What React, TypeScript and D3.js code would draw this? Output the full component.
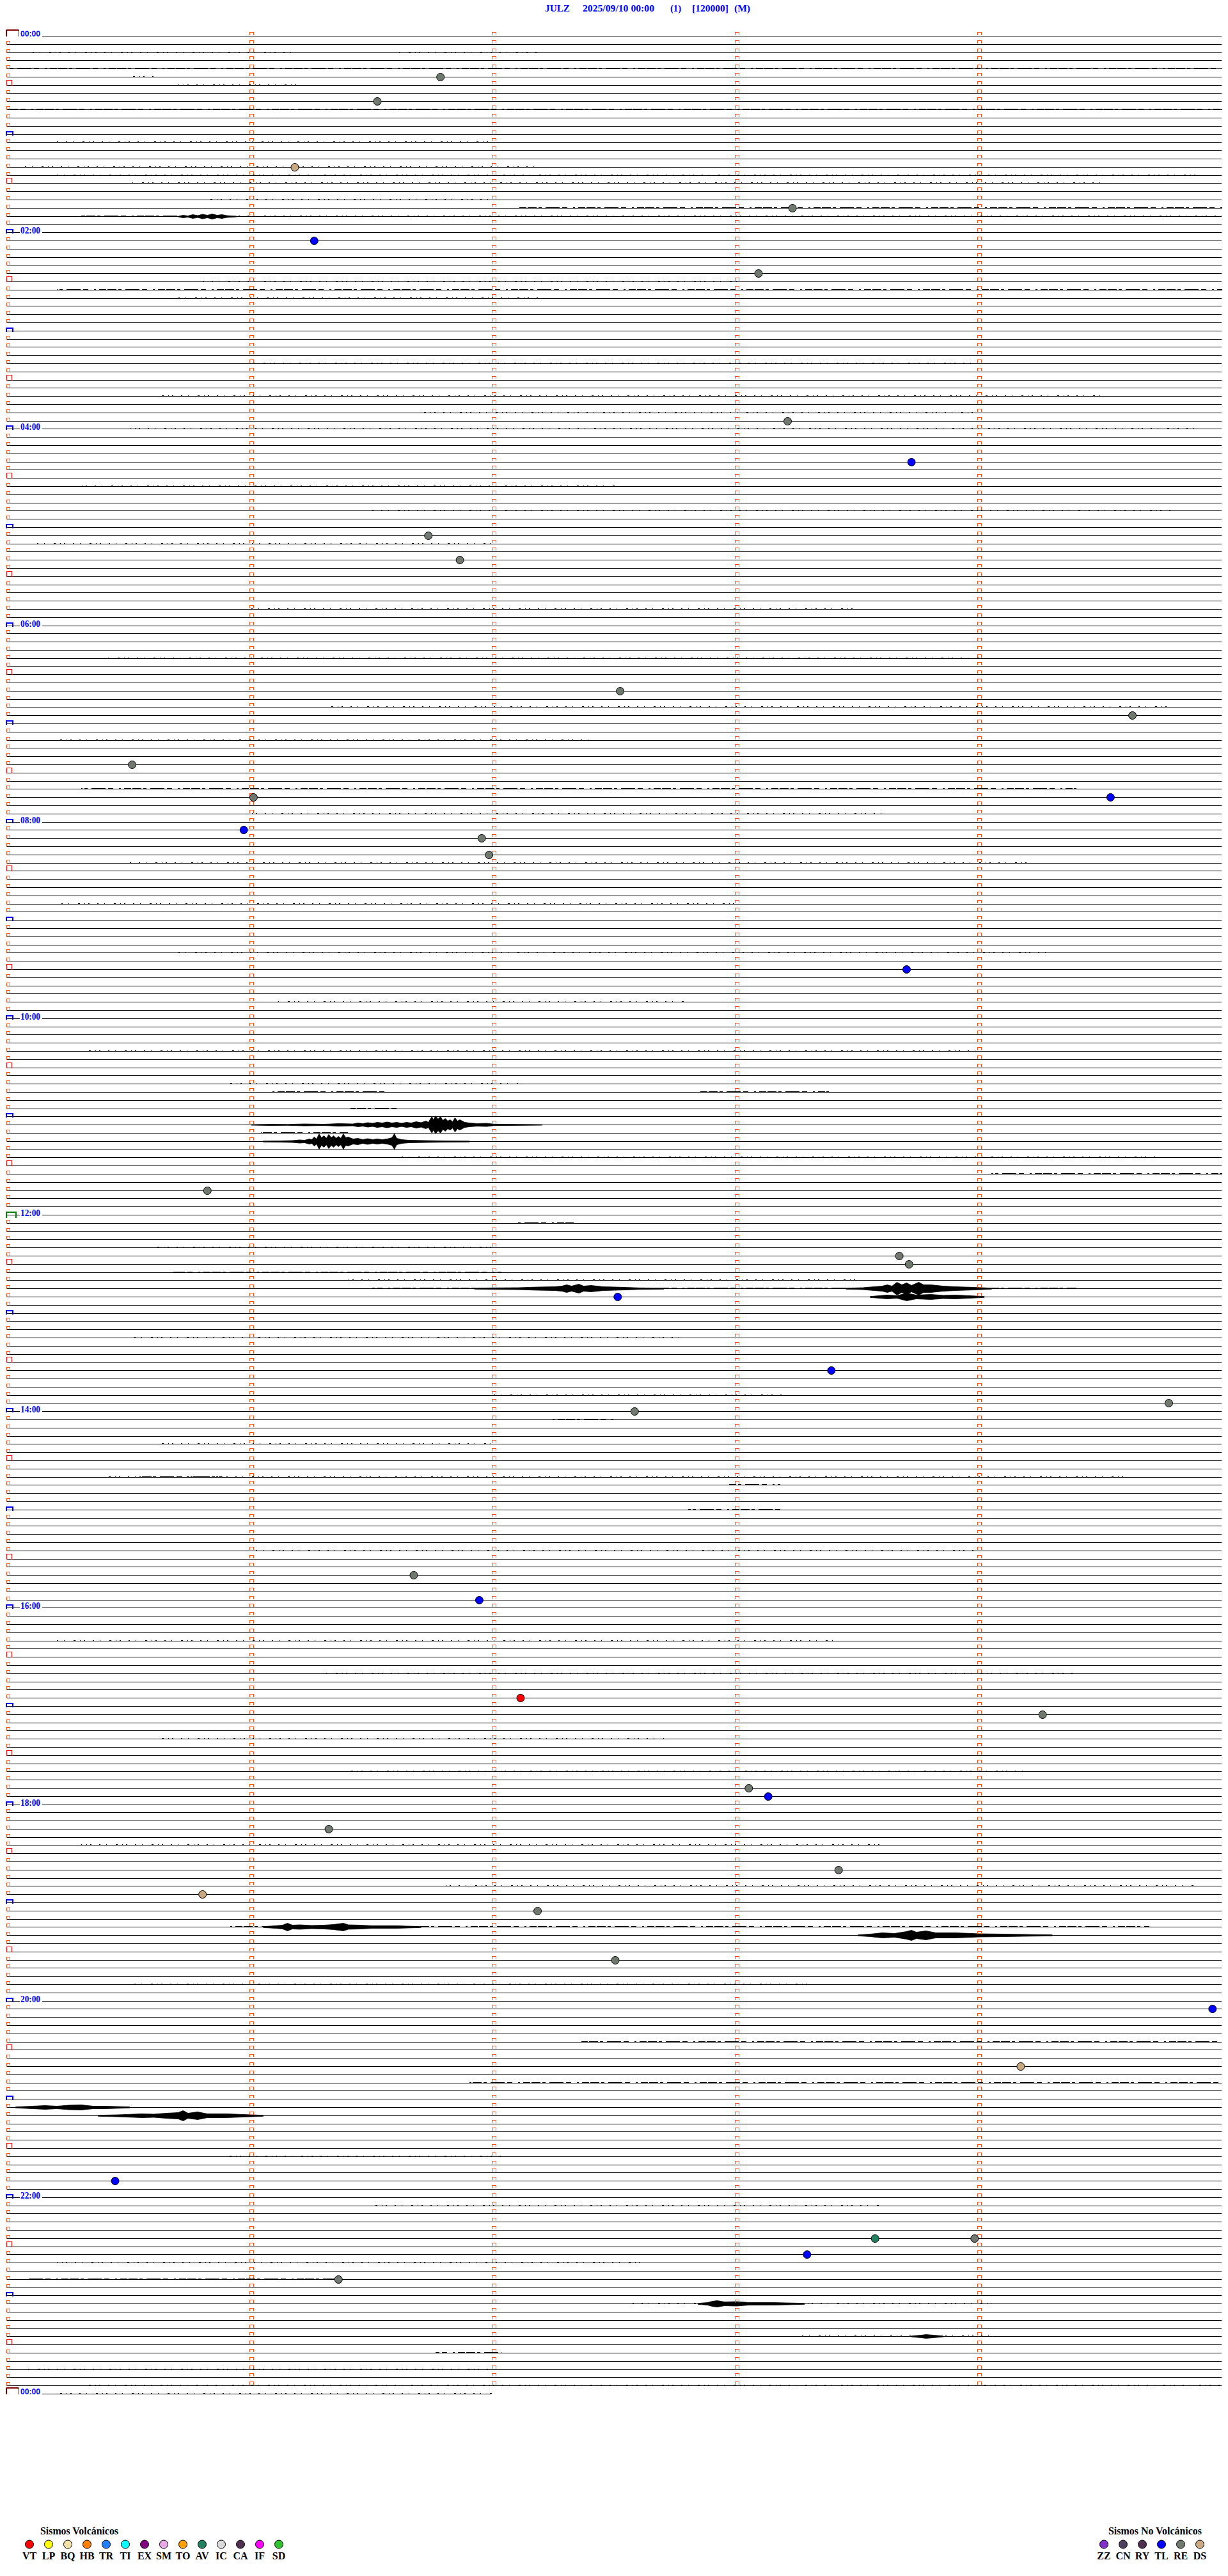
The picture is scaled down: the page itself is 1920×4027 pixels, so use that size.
import React from 'react';
import * as d3 from 'd3';

// ---------- DATA ----------
const TITLE_PARTS = ['JULZ', '2025/09/10 00:00', '(1)', '[120000]', '(M)'];
const TITLE_X = [852, 911, 1048, 1082, 1148];
const TITLE_W = [39, 112, 17, 57, 25];

const ROWS = 288; // 5-minute rows for 24 h
const ROW_MINUTES = 5;
const LAST_ROW_MINUTES = 2;
const TICK_MINUTES = [1, 2, 3, 4];
const HOUR_LABELS = ['00:00', '02:00', '04:00', '06:00', '08:00', '10:00', '12:00', '14:00', '16:00', '18:00', '20:00', '22:00', '00:00'];

// events: minutes since 00:00 and type code
const EVENT_MINUTES = [26.78, 41.52, 81.18, 108.23, 126.26, 148.09, 238.21, 263.72, 306.73, 321.86, 402.52, 419.63, 445.51, 466.01, 469.54, 485.97, 491.95, 501.98, 573.7, 705.82, 748.67, 753.71, 772.51, 818.39, 839.78, 842.58, 941.67, 956.94, 1017.11, 1029.26, 1073.05, 1078.13, 1096.32, 1123.42, 1135.8, 1147.18, 1177.5, 1209.96, 1244.17, 1310.44, 1348.57, 1348.98, 1358.29, 1371.36];
const EVENT_TYPES = ['RE', 'RE', 'DS', 'RE', 'TL', 'RE', 'RE', 'TL', 'RE', 'RE', 'RE', 'RE', 'RE', 'RE', 'TL', 'TL', 'RE', 'RE', 'TL', 'RE', 'RE', 'RE', 'TL', 'TL', 'RE', 'RE', 'RE', 'TL', 'VT', 'RE', 'RE', 'TL', 'RE', 'RE', 'DS', 'RE', 'RE', 'TL', 'DS', 'TL', 'AV', 'RE', 'TL', 'RE'];

// noise bands: [row, startMinute, endMinute, level] (level 1 sparse, 2 dense)
const NOISE: [number, number, number, number][] = [
  [2, 0.1, 1.2, 1], [2, 1.6, 2.2, 1],
  [4, 0.0, 5.0, 2],
  [5, 0.5, 0.6, 1], [6, 0.7, 1.2, 1],
  [9, 0.0, 5.0, 2],
  [13, 0.2, 2.0, 1],
  [16, 0.05, 2.2, 1], [17, 0.2, 4.9, 1], [18, 0.5, 4.5, 1],
  [20, 0.8, 2.0, 1], [21, 2.1, 5.0, 2], [22, 0.3, 0.7, 2], [22, 0.93, 5.0, 1],
  [30, 0.8, 3.0, 1], [31, 0.2, 5.0, 2], [32, 0.7, 2.2, 1],
  [40, 1.0, 4.0, 1], [44, 0.6, 4.5, 1], [46, 1.7, 4.0, 1], [48, 0.5, 4.9, 1],
  [55, 0.3, 2.5, 1], [58, 1.5, 4.8, 1], [62, 0.1, 2.0, 1],
  [70, 1.0, 3.5, 1], [76, 0.4, 4.0, 1], [82, 1.3, 4.8, 1], [86, 0.2, 2.4, 1],
  [92, 0.3, 4.4, 2], [95, 1.0, 3.6, 1], [101, 0.5, 4.2, 1], [106, 0.2, 3.0, 1],
  [112, 0.7, 4.3, 1], [118, 1.1, 2.8, 1], [124, 0.3, 4.0, 1], [128, 0.9, 2.1, 1],
  [129, 1.08, 1.55, 2], [129, 2.84, 3.38, 2],
  [131, 1.41, 1.62, 2], [134, 1.04, 1.4, 2], [137, 1.62, 4.73, 1], [139, 4.05, 5.0, 2],
  [145, 2.1, 2.33, 2], [148, 0.6, 2.0, 1], [151, 0.68, 2.03, 2], [152, 1.4, 3.5, 1], [153, 1.5, 4.4, 2],
  [159, 0.5, 2.8, 1], [166, 2.0, 3.2, 1], [169, 2.23, 2.5, 2], [172, 0.6, 2.0, 1], [176, 0.4, 4.6, 1],
  [176, 0.54, 0.88, 2], [177, 2.97, 3.18, 2],
  [180, 2.8, 3.2, 2], [185, 1.0, 4.0, 1], [196, 0.2, 3.4, 1], [200, 1.3, 4.4, 1],
  [208, 0.6, 2.7, 1], [212, 1.4, 4.2, 1], [221, 0.3, 3.6, 1], [226, 1.8, 4.9, 1],
  [231, 0.9, 4.7, 2], [238, 0.5, 3.3, 1], [245, 2.36, 5.0, 2], [250, 1.9, 5.0, 2],
  [259, 0.88, 2.03, 1], [265, 1.5, 3.6, 1], [272, 0.2, 2.6, 1], [274, 0.07, 1.35, 2],
  [277, 2.57, 4.05, 1], [281, 3.25, 4.05, 1], [283, 1.76, 2.03, 2], [285, 0.07, 2.0, 1],
  [287, 0.3, 5.0, 1], [288, 0.2, 2.0, 1]
];

// seismic bursts: row and envelope [minute, halfAmplitudePx]
const BURSTS: { row: number; env: [number, number][] }[] = [
  { row: 22, env: [[0.7, 0.5], [0.72, 2], [0.74, 1], [0.76, 3], [0.78, 1.5], [0.8, 3.5], [0.82, 2], [0.84, 4], [0.86, 2], [0.88, 3], [0.9, 1.5], [0.94, 0.5]] },
  { row: 133, env: [[1.0, 0.5], [1.08, 1], [1.15, 0.8], [1.22, 1.5], [1.3, 1], [1.36, 2], [1.42, 1.5], [1.44, 3], [1.46, 2], [1.48, 3.5], [1.5, 2.5], [1.52, 4], [1.54, 3], [1.56, 4.5], [1.58, 3], [1.6, 4], [1.62, 2.5], [1.64, 4], [1.66, 3], [1.68, 5], [1.7, 3.5], [1.72, 6], [1.73, 4], [1.745, 13], [1.75, 8], [1.76, 14], [1.77, 9], [1.78, 13], [1.79, 7], [1.8, 10], [1.81, 6], [1.82, 8], [1.83, 5], [1.84, 11], [1.85, 6], [1.86, 8], [1.88, 4], [1.9, 3], [1.93, 2], [1.97, 2.5], [2.0, 1.2], [2.05, 1], [2.2, 0.5]] },
  { row: 135, env: [[1.05, 0.7], [1.12, 1], [1.17, 1.5], [1.2, 2.5], [1.22, 2], [1.24, 4], [1.25, 3], [1.26, 7], [1.27, 4], [1.28, 12], [1.29, 6], [1.3, 9], [1.31, 5], [1.32, 11], [1.33, 6], [1.34, 9], [1.35, 5], [1.36, 8], [1.37, 5], [1.38, 12], [1.39, 6], [1.4, 7], [1.42, 4], [1.44, 5], [1.46, 3], [1.48, 4.5], [1.5, 3], [1.52, 4], [1.54, 3], [1.56, 4], [1.58, 6], [1.59, 12], [1.6, 5], [1.62, 3], [1.65, 2], [1.72, 1.5], [1.8, 1], [1.9, 0.7]] },
  { row: 153, env: [[1.92, 0.8], [2.0, 1.2], [2.1, 1.5], [2.18, 2.5], [2.25, 3], [2.28, 4], [2.3, 6], [2.32, 4], [2.35, 7], [2.37, 4], [2.4, 5], [2.45, 3], [2.5, 2.5], [2.6, 1.2], [2.7, 0.8]] },
  { row: 153, env: [[3.45, 0.8], [3.52, 1.5], [3.55, 2.5], [3.6, 4], [3.62, 6], [3.64, 4], [3.66, 10], [3.68, 6], [3.7, 9], [3.72, 5], [3.75, 10], [3.77, 6], [3.8, 6], [3.85, 4], [3.9, 3], [3.98, 2], [4.05, 0.8]] },
  { row: 154, env: [[3.55, 0.8], [3.62, 3], [3.66, 2], [3.7, 6], [3.74, 3], [3.8, 4], [3.85, 2.5], [3.9, 3], [4.02, 0.8]] },
  { row: 231, env: [[1.05, 0.8], [1.1, 2], [1.13, 3], [1.15, 6], [1.17, 3], [1.2, 3.5], [1.25, 2.5], [1.3, 3], [1.34, 4], [1.38, 6], [1.4, 3.5], [1.45, 3], [1.5, 2], [1.6, 2], [1.7, 0.8]] },
  { row: 232, env: [[3.5, 0.8], [3.55, 2], [3.6, 4], [3.65, 3], [3.7, 6], [3.72, 8], [3.74, 5], [3.78, 7], [3.82, 4], [3.9, 4], [4.0, 2.5], [4.1, 2], [4.3, 0.8]] },
  { row: 253, env: [[0.03, 0.8], [0.1, 2], [0.15, 3], [0.2, 2], [0.25, 3.5], [0.3, 4], [0.35, 2], [0.4, 2], [0.5, 0.8]] },
  { row: 254, env: [[0.37, 0.8], [0.45, 1.5], [0.55, 3], [0.6, 2.5], [0.65, 4], [0.7, 5], [0.72, 8], [0.74, 4], [0.78, 6], [0.82, 3], [0.9, 3], [1.0, 1.5], [1.05, 0.8]] },
  { row: 277, env: [[2.84, 0.8], [2.88, 2], [2.9, 4], [2.92, 5], [2.95, 3], [3.0, 3.5], [3.05, 2], [3.15, 2], [3.28, 0.8]] },
  { row: 281, env: [[3.72, 0.8], [3.76, 2], [3.78, 3], [3.81, 2], [3.85, 0.8]] }
];

const VOLC_CODES = ['VT', 'LP', 'BQ', 'HB', 'TR', 'TI', 'EX', 'SM', 'TO', 'AV', 'IC', 'CA', 'IF', 'SD'];
const VOLC_COLORS = ['#ff0000', '#ffff00', '#f2e2a8', '#ff8000', '#2080ff', '#00ffff', '#800080', '#e8a8e8', '#ffa000', '#208060', '#dadada', '#503050', '#ff00ff', '#30c030'];
const NONVOLC_CODES = ['ZZ', 'CN', 'RY', 'TL', 'RE', 'DS'];
const NONVOLC_COLORS = ['#8030c8', '#504060', '#503050', '#0000ff', '#707870', '#c8a880'];

// ---------- CHART ----------
const ORANGE = '#ff4a10';
const y = d3.scaleLinear().domain([0, ROWS]).range([56, 3742]);
const x = d3.scaleLinear().domain([0, ROW_MINUTES]).range([13, 1911]);
const snap = (v: number) => Math.round(v) + 0.5;
const codeColor = (c: string) => {
  const i = NONVOLC_CODES.indexOf(c);
  if (i >= 0) return NONVOLC_COLORS[i];
  return VOLC_COLORS[Math.max(0, VOLC_CODES.indexOf(c))];
};
const DASH_DENSE = '14 3 5 6 22 4 8 9 3 5 11 2';
const DASH_SPARSE = '2 9 1 14 3 7 1 5 2 12';

export default function App() {
  const rows = d3.range(ROWS + 1);
  const area = d3.area<[number, number]>().x((d) => x(d[0]));

  return (
    <svg width={1920} height={4027} style={{ position: 'absolute', left: 0, top: 0, background: '#fff' }}>
      <rect width={1920} height={4027} fill="#fff" />
      {/* title */}
      {TITLE_PARTS.map((t, i) => (
        <text key={i} x={TITLE_X[i]} y={18} fill="#0000ff" fontFamily="'Liberation Serif', serif" fontWeight="bold" fontSize={15} textLength={TITLE_W[i]} lengthAdjust="spacingAndGlyphs">
          {t}
        </text>
      ))}

      {/* trace baselines */}
      <g shapeRendering="crispEdges">
        {rows.map((r) => {
          const cy = snap(y(r));
          const labeled = r % 24 === 0;
          const endMin = r === ROWS ? LAST_ROW_MINUTES : ROW_MINUTES;
          const xEnd = r === ROWS ? x(endMin) - 4 : x(endMin) - 1;
          const segs: [number, number][] = [];
          if (labeled) {
            if (r !== 0 && r !== ROWS) segs.push([11, 31]);
            segs.push([66, xEnd]);
          } else segs.push([11, xEnd]);
          return (
            <g key={r}>
              {segs.map((s, k) => (
                <line key={k} x1={s[0]} x2={s[1]} y1={cy} y2={cy} stroke="#000" strokeWidth={1} />
              ))}
            </g>
          );
        })}
      </g>

      {/* noise bands */}
      <g stroke="#000" shapeRendering="crispEdges">
        {NOISE.map((n, i) => {
          const cy = snap(y(n[0]));
          const dense = n[3] >= 2;
          return (
            <line
              key={i}
              x1={x(n[1])}
              x2={x(n[2])}
              y1={dense ? cy - 0.5 : cy - 1}
              y2={dense ? cy - 0.5 : cy - 1}
              strokeWidth={dense ? 2 : 1}
              strokeDasharray={dense ? DASH_DENSE : DASH_SPARSE}
              strokeDashoffset={i * 7}
            />
          );
        })}
      </g>

      {/* bursts */}
      <g fill="#000" stroke="#000" strokeWidth={0.8}>
        {BURSTS.map((b, i) => {
          const cy = snap(y(b.row));
          const a = area.y0((d) => cy + d[1]).y1((d) => cy - d[1]);
          return <path key={i} d={a(b.env) || ''} />;
        })}
      </g>

      {/* minute ticks and row markers */}
      <g fill="none" shapeRendering="crispEdges">
        {rows.map((r) => {
          const cy = snap(y(r));
          const els: React.ReactNode[] = [];
          if (r < ROWS) {
            TICK_MINUTES.forEach((m) => {
              const tx = Math.round(x(m));
              els.push(
                <path key={'t' + m} d={`M${tx - 2.5},${cy - 1.5} V${cy - 6.5} H${tx + 3.5} V${cy - 1.5}`} stroke={ORANGE} strokeWidth={1} />
              );
            });
          }
          if (r === 0 || r === ROWS) {
            els.push(<path key="m" d={`M10,${cy} V${cy - 9} H29.5 V${cy}`} stroke="#800000" strokeWidth={1.5} />);
            els.push(<line key="m2" x1={10} x2={29} y1={cy - 9.5} y2={cy - 9.5} stroke="#800000" strokeWidth={2} />);
          } else if (r === ROWS / 2) {
            els.push(<path key="m" d={`M10,${cy + 4.5} V${cy - 4.5} H25 V${cy + 4.5}`} stroke="#008000" strokeWidth={2} />);
          } else if (r % 12 === 0) {
            els.push(<path key="m" d={`M10,${cy + 1.5} V${cy - 4.5} H20 V${cy + 1.5}`} stroke="#0000ff" strokeWidth={2} />);
          } else if (r % 6 === 0) {
            els.push(<path key="m" d={`M10.5,${cy} V${cy - 8} H18.5 V${cy}`} stroke="#ff0000" strokeWidth={1.5} />);
          } else {
            els.push(<path key="m" d={`M10.5,${cy} V${cy - 5.5} H15.5 V${cy}`} stroke={ORANGE} strokeWidth={1} />);
          }
          return <g key={r}>{els}</g>;
        })}
      </g>

      {/* hour labels */}
      {HOUR_LABELS.map((h, i) => {
        const r = i * 24;
        const cy = snap(y(r));
        const edge = i === 0 || i === HOUR_LABELS.length - 1;
        return (
          <text
            key={i}
            x={32}
            y={cy + (edge ? 0.5 : 1.5)}
            fill="#0000ff"
            fontFamily={edge ? "'Liberation Sans', sans-serif" : "'Liberation Serif', serif"}
            fontWeight="bold"
            fontSize={edge ? 12.5 : 14}
            textLength={31}
            lengthAdjust="spacingAndGlyphs"
          >
            {h}
          </text>
        );
      })}

      {/* events */}
      <g stroke="#000" strokeWidth={1}>
        {EVENT_MINUTES.map((t, i) => {
          const r = Math.floor(t / ROW_MINUTES);
          const m = t - r * ROW_MINUTES;
          return <circle key={i} cx={x(m)} cy={snap(y(r))} r={6} fill={codeColor(EVENT_TYPES[i])} />;
        })}
      </g>

      {/* legends */}
      <g fontFamily="'Liberation Serif', serif" fontWeight="bold" fill="#000">
        <text x={63} y={3962} fontSize={16} textLength={122} lengthAdjust="spacingAndGlyphs">Sismos Volcánicos</text>
        {VOLC_CODES.map((c, i) => (
          <g key={c}>
            <circle cx={46 + i * 30} cy={3977.5} r={6.5} fill={VOLC_COLORS[i]} stroke="#000" strokeWidth={1} />
            <text x={46 + i * 30} y={4001} fontSize={16} textAnchor="middle">{c}</text>
          </g>
        ))}
        <text x={1733} y={3962} fontSize={16} textLength={146} lengthAdjust="spacingAndGlyphs">Sismos No Volcánicos</text>
        {NONVOLC_CODES.map((c, i) => (
          <g key={c}>
            <circle cx={1726 + i * 30} cy={3977.5} r={6.5} fill={NONVOLC_COLORS[i]} stroke="#000" strokeWidth={1} />
            <text x={1726 + i * 30} y={4001} fontSize={16} textAnchor="middle">{c}</text>
          </g>
        ))}
      </g>
    </svg>
  );
}
